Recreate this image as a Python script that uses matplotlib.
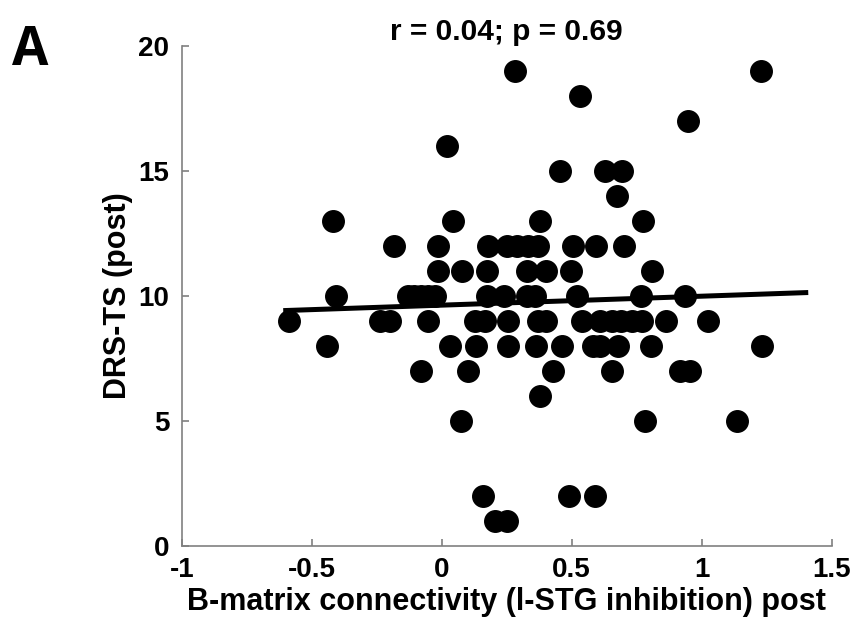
import numpy as np
import matplotlib.pyplot as plt

plt.rcParams['font.family'] = ['Liberation Sans', 'DejaVu Sans']
plt.rcParams['font.weight'] = 'bold'

# connectivity values (x) grouped by DRS-TS score (y)
conn_19 = [0.28, 1.227]
conn_18 = [0.532]
conn_17 = [0.946]
conn_16 = [0.022]
conn_15 = [0.455, 0.628, 0.692]
conn_14 = [0.673]
conn_13 = [-0.419, 0.042, 0.378, 0.775]
conn_12 = [-0.183, -0.013, 0.179, 0.25, 0.29, 0.33, 0.37, 0.506, 0.594, 0.701]
conn_11 = [-0.013, 0.077, 0.175, 0.327, 0.40, 0.496, 0.808]
conn_10 = [-0.407, -0.13, -0.105, -0.08, -0.053, -0.026, 0.174, 0.238,
           0.328, 0.36, 0.519, 0.765, 0.937]
conn_9 = [-0.587, -0.237, -0.198, -0.052, 0.128, 0.167, 0.256, 0.37, 0.40,
          0.538, 0.61, 0.655, 0.69, 0.73, 0.77, 0.863, 1.025]
conn_8 = [-0.442, 0.032, 0.132, 0.256, 0.363, 0.462, 0.58, 0.61, 0.679,
          0.805, 1.233]
conn_7 = [-0.081, 0.102, 0.429, 0.654, 0.917, 0.955]
conn_6 = [0.378]
conn_5 = [0.074, 0.782, 1.135]
conn_2 = [0.16, 0.491, 0.59]
conn_1 = [0.205, 0.252]

groups = {19: conn_19, 18: conn_18, 17: conn_17, 16: conn_16, 15: conn_15,
          14: conn_14, 13: conn_13, 12: conn_12, 11: conn_11, 10: conn_10,
          9: conn_9, 8: conn_8, 7: conn_7, 6: conn_6, 5: conn_5, 2: conn_2,
          1: conn_1}

x = np.concatenate([np.array(v, float) for v in groups.values()])
y = np.concatenate([np.full(len(v), k, float) for k, v in groups.items()])

fit_range = [-0.6, 1.4]

fig = plt.figure(figsize=(8.58, 6.35), dpi=100)
ax = fig.add_axes([0.2118, 0.1406, 0.7576, 0.7874])

ax.plot(x, y, 'o', color='black', markersize=15.5, zorder=3)

slope, icpt = np.polyfit(x, y, 1)
xl = np.array(fit_range)
ax.plot(xl, slope * xl + icpt, color='black', lw=3.6, zorder=2)

ax.set_xlim(-1, 1.5)
ax.set_ylim(0, 20)
ax.set_xticks([-1, -0.5, 0, 0.5, 1, 1.5])
ax.set_xticklabels(['-1', '-0.5', '0', '0.5', '1', '1.5'])
ax.set_yticks([0, 5, 10, 15, 20])

for side in ['top', 'right']:
    ax.spines[side].set_visible(False)
for side in ['left', 'bottom']:
    ax.spines[side].set_color('#808080')
    ax.spines[side].set_linewidth(1.2)
ax.tick_params(direction='in', length=5, width=1.2, color='#808080',
               labelsize=20, labelcolor='black')
ax.tick_params(axis='x', pad=8)
ax.tick_params(axis='y', pad=9)

ax.set_xlabel('B-matrix connectivity (l-STG inhibition) post', fontsize=22,
              fontweight='bold', labelpad=3)
ax.set_ylabel('DRS-TS (post)', fontsize=22, fontweight='bold', labelpad=4)
ax.set_title('r = 0.04; p = 0.69', fontsize=21.5, fontweight='bold', pad=4)

fig.text(0.014, 0.962, 'A', fontsize=38, fontweight='bold', va='top',
         family=['Open Sans', 'DejaVu Sans'])

fig.savefig('out.png', dpi=100)
